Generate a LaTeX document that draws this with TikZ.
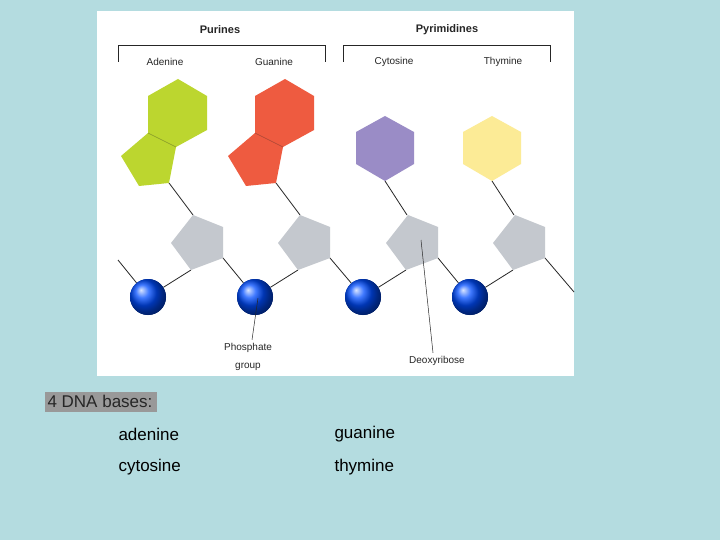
\documentclass[tikz,border=0pt]{standalone}
\usepackage{fontspec}
\setmainfont{Liberation Sans}
\usetikzlibrary{shadows}
\definecolor{bg}{HTML}{B4DCE0}
\definecolor{agreen}{HTML}{BCD62F}
\definecolor{gred}{HTML}{EE5B40}
\definecolor{cpurp}{HTML}{9A8CC6}
\definecolor{tyel}{HTML}{FCEB96}
\definecolor{sgray}{HTML}{C4C8CE}
\begin{document}
\begin{tikzpicture}[x=1pt,y=-1pt,
  lbl/.style={font=\fontsize{10}{12}\selectfont,text=black!85},
  big/.style={font=\fontsize{17}{20}\selectfont,anchor=west},
  bond/.style={line width=0.8pt,black!85},
  sph/.style={circle,minimum size=36pt,inner sep=0pt,ball color=blue!70!cyan,draw=none}]
\useasboundingbox (0,0) rectangle (720,540);
\fill[bg] (0,0) rectangle (720,540);
\fill[white] (97,11) rectangle (574,376);
% headings
\node[lbl,font=\fontsize{11}{13}\selectfont\bfseries] (pur) at (220,30) {Purines};
\node[lbl,font=\fontsize{11}{13}\selectfont\bfseries] (pyr) at (447,30) {Pyrimidines};
\draw[bond,line width=0.6pt] (118,62) -- (118,45) -- (325,45) -- (325,62);
\draw[bond,line width=0.6pt] (343,62) -- (343,45) -- (550,45) -- (550,62);
\node[lbl] (ad) at (165,62) {Adenine};
\node[lbl] (gu) at (274,62) {Guanine};
\node[lbl] (cy) at (394,62) {Cytosine};
\node[lbl] (th) at (503,62) {Thymine};
% backbone lines
\coordinate (L) at (118,260);
\coordinate (R) at (574,292);
\foreach \i/\dx in {0/0,1/107,2/215,3/322}{
  \begin{scope}[shift={(\dx,0)}]
    \coordinate (sb\i) at (191,270);
    \coordinate (sr\i) at (223,258);
    \coordinate (st\i) at (193,215);
  \end{scope}
}
\node[sph] (p0) at (148,297) {};
\node[sph] (p1) at (255,297) {};
\node[sph] (p2) at (363,297) {};
\node[sph] (p3) at (470,297) {};
\begin{scope}[on background layer/.style={}]
\draw[bond] (L) -- (p0);
\draw[bond] (p0) -- (sb0); \draw[bond] (sr0) -- (p1);
\draw[bond] (p1) -- (sb1); \draw[bond] (sr1) -- (p2);
\draw[bond] (p2) -- (sb2); \draw[bond] (sr2) -- (p3);
\draw[bond] (p3) -- (sb3); \draw[bond] (sr3) -- (R);
\end{scope}
% sugars
\foreach \dx in {0,107,215,322}{
  \fill[sgray,shift={(\dx,0)}] (193,215) -- (223,227) -- (223,258) -- (191,270) -- (171,243) -- cycle;
}
\foreach \i/\dx in {0/0,1/107,2/215,3/322}{
 \node[sph] at (p\i) {};}
% purines
\foreach \dx/\c in {0/agreen,107/gred}{
  \begin{scope}[shift={(\dx,0)}]
   \fill[\c] (178,79) -- (207,96) -- (207,130) -- (176,147) -- (148,133) -- (148,96) -- cycle;
   \fill[\c] (148,133) -- (176,147) -- (169,183) -- (139,186) -- (121,156) -- cycle;
   \draw[\c!70!black,line width=0.5pt] (148,133) -- (176,147);
   \draw[bond] (169,183) -- (193,215);
  \end{scope}
}
% pyrimidines
\foreach \dx/\c in {0/cpurp,107/tyel}{
  \begin{scope}[shift={(\dx,0)}]
   \fill[\c] (385,116) -- (414,132) -- (414,164) -- (385,181) -- (356,164) -- (356,132) -- cycle;
   \draw[bond] (385,181) -- (407,215);
  \end{scope}
}
% labels with pointers
\node[lbl,align=center,font=\fontsize{10}{18}\selectfont] (pg) at (248,357) {Phosphate\\group};
\draw[bond,line width=0.5pt] (pg.north) ++(4,0) coordinate (pgt) -- (258,298);
\node[lbl] (dr) at (437,361) {Deoxyribose};
\draw[bond,line width=0.5pt] (dr.north) ++(-4,0) coordinate (drt) -- (421,240);
% bottom text
\node[big,text=black!85,font=\fontsize{17}{20}\selectfont,
  drop shadow={shadow xshift=1pt,shadow yshift=-1pt,fill=black!40,opacity=1}] (h) at (44,401) {4 DNA bases:};
\node[big] (a) at (115,434) {adenine};
\node[big] (g) at (331,434) {guanine};
\node[big] (c) at (115,467) {cytosine};
\node[big] (t) at (331,467) {thymine};
\end{tikzpicture}
\end{document}
